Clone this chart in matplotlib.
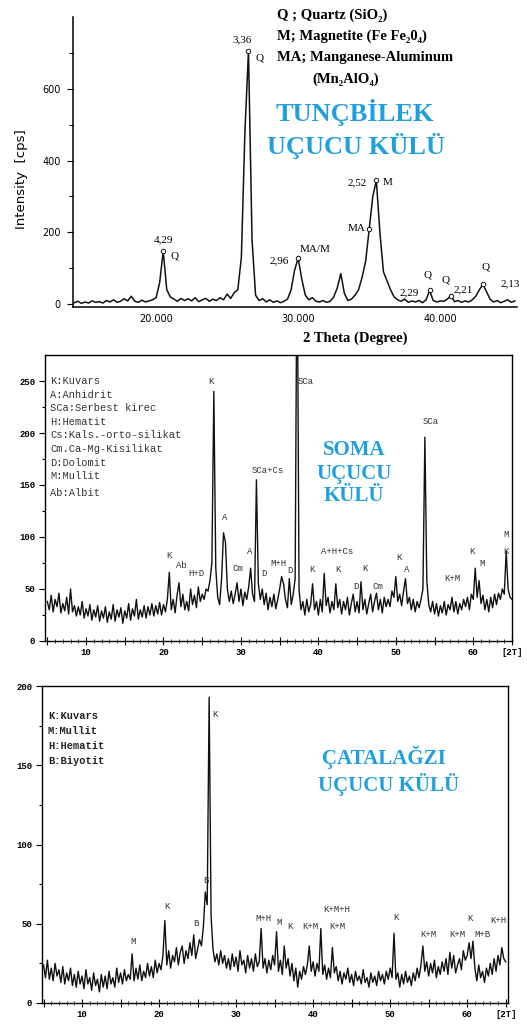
import numpy as np
import matplotlib
matplotlib.use("Agg")
import matplotlib.pyplot as plt
from matplotlib.ticker import MultipleLocator, FixedLocator, FuncFormatter

W, H = 527, 1026
BLUE = "#1f9fe0"
INK = "#111111"
SERIF = ["Liberation Serif", "DejaVu Serif"]
MONO = ["Liberation Mono", "DejaVu Sans Mono"]

# ---- Tunçbilek (2 theta from 14.25, step 0.25) ----
tun_start, tun_step = 14.25, 0.25
tun_counts = [
    4, 8, 2, 6, 3, 9, 5, 7,
    3, 10, 6, 12, 5, 8, 15, 9,
    22, 8, 5, 11, 6, 9, 12, 18,
    60, 148, 40, 20, 14, 8, 16, 10,
    15, 9, 18, 7, 12, 16, 8, 14,
    10, 18, 12, 28, 16, 32, 40, 130,
    480, 705, 180, 25, 10, 15, 6, 12,
    5, 9, 4, 8, 14, 40, 95, 128,
    70, 25, 12, 18, 8, 6, 10, 5,
    8, 20, 45, 85, 30, 10, 14, 25,
    40, 75, 120, 210, 300, 345, 200, 90,
    65, 40, 20, 12, 8, 14, 5, 9,
    6, 10, 4, 12, 38, 10, 6, 9,
    8, 14, 24, 7, 10, 5, 9, 6,
    12, 22, 40, 55, 35, 14, 6, 10,
    4, 8, 12, 5, 9,
]
tun_ticks = [20, 30, 40]
tun_ticklabels = ["20.000", "30.000", "40.000"]
tun_yticks = [0, 200, 400, 600]
tun_circles = [20.5, 26.5, 30.0, 35.0, 35.5, 39.25, 40.75, 43.0]
tun_peaks = [
    ("3,36", 26.05, 736), ("Q", 27.3, 686), ("4,29", 20.5, 178), ("Q", 21.3, 133),
    ("2,96", 28.7, 122), ("MA/M", 31.2, 153), ("2,52", 34.15, 339), ("M", 36.3, 339),
    ("MA", 34.1, 211), ("Q", 39.1, 80), ("Q", 40.4, 67), ("2,29", 37.8, 33),
    ("2,21", 41.6, 39), ("Q", 43.2, 103), ("2,13", 44.9, 56),
]
tun_legend = ["Q ; Quartz (SiO₂)", "M; Magnetite (Fe Fe₂0₄)", "MA; Manganese-Aluminum"]

# ---- Soma (2 theta from 5, step 0.25) ----
soma_start, soma_step = 5.0, 0.25
soma_counts = [
    38, 30, 44, 28, 40, 33, 46, 27,
    36, 29, 42, 26, 50, 28, 34, 24,
    33, 25, 38, 22, 31, 24, 35, 20,
    30, 23, 34, 19, 29, 22, 33, 18,
    28, 21, 35, 19, 30, 23, 32, 17,
    29, 22, 36, 20, 31, 24, 40, 21,
    30, 23, 34, 22, 33, 25, 36, 24,
    34, 26, 37, 25, 35, 28, 40, 66,
    30, 40, 27, 44, 56, 33, 45, 30,
    38, 29, 50, 35, 44, 32, 52, 38,
    45, 40, 50, 48, 58, 75, 240, 70,
    42, 35, 60, 104, 95, 50, 38, 48,
    36, 45, 56, 38, 50, 34, 47, 40,
    52, 70, 45, 38, 155, 55, 40, 50,
    35, 46, 30, 42, 33, 45, 31, 40,
    50, 62, 55, 40, 32, 60, 35, 45,
    60, 400, 50, 30, 38, 25, 40, 28,
    35, 55, 30, 38, 25, 40, 28, 65,
    34, 42, 27, 38, 30, 55, 32, 40,
    26, 38, 30, 42, 25, 36, 45, 28,
    38, 27, 57, 30, 40, 26, 36, 45,
    28, 38, 46, 30, 40, 27, 42, 33,
    40, 33, 48, 42, 62, 38, 45, 34,
    48, 60, 36, 42, 30, 40, 28, 38,
    32, 40, 50, 196, 58, 35, 28, 38,
    26, 36, 24, 34, 27, 38, 25, 35,
    30, 42, 28, 38, 26, 36, 30, 40,
    33, 42, 30, 45, 40, 70, 42, 58,
    36, 44, 30, 40, 28, 42, 32, 45,
    35, 46, 40, 50, 45, 86, 50, 42,
    40,
]
soma_legend = ["K:Kuvars", "A:Anhidrit", "SCa:Serbest kirec", "H:Hematit",
               "Cs:Kals.-orto-silikat", "Cm.Ca-Mg-Kisilikat", "D:Dolomit",
               "M:Mullit", "Ab:Albit"]
soma_peaks = [
    ("K", 26.1, 250), ("SCa", 38.4, 250), ("SCa", 54.5, 211), ("SCa+Cs", 33.5, 164),
    ("A", 27.9, 119), ("A", 31.15, 86), ("K", 20.7, 82), ("Ab", 22.25, 73),
    ("H+D", 24.2, 65), ("Cm", 29.6, 70), ("D", 33.0, 65), ("M+H", 34.8, 75),
    ("D", 36.3, 68), ("A+H+Cs", 42.4, 86), ("K", 39.15, 69), ("K", 42.5, 69),
    ("K", 46.0, 70), ("D", 44.8, 52), ("Cm", 47.7, 52), ("K", 50.4, 80),
    ("A", 51.4, 69), ("K+M", 57.3, 60), ("K", 59.8, 86), ("M", 61.1, 75),
    ("M", 64.2, 102), ("K", 64.2, 86),
]

# ---- Çatalağzı (2 theta from 5, step 0.25) ----
cat_start, cat_step = 5.0, 0.25
cat_counts = [
    24, 16, 27, 15, 22, 14, 25, 17,
    21, 13, 23, 12, 19, 14, 22, 11,
    18, 10, 20, 12, 17, 9, 21, 12,
    16, 8, 19, 11, 15, 7, 18, 10,
    17, 9, 20, 12, 16, 10, 22, 13,
    19, 12, 21, 14, 18, 15, 31, 14,
    22, 15, 24, 14, 20, 16, 25, 17,
    23, 16, 27, 19, 25, 21, 30, 52,
    24, 33, 22, 30, 26, 35, 24, 32,
    36, 25, 33, 28, 38, 30, 43, 28,
    34, 40, 36, 48, 70, 62, 193, 55,
    34, 26, 31, 24, 33, 25, 30, 22,
    28, 21, 31, 23, 29, 20, 33, 24,
    27, 19, 30, 22, 28, 20, 31, 23,
    26, 47, 22, 28, 19, 27, 21, 30,
    24, 45, 20, 27, 18, 36, 22, 28,
    17, 25, 14, 22, 10, 20, 15, 23,
    18, 24, 36, 20, 26, 17, 25, 20,
    47, 18, 24, 15, 22, 16, 35, 19,
    23, 14, 20, 12, 19, 15, 22, 13,
    18, 11, 20, 14, 17, 12, 21, 13,
    16, 10, 19, 13, 17, 11, 20, 14,
    18, 12, 20, 15, 22, 16, 44, 15,
    19, 10, 18, 12, 20, 13, 17, 11,
    19, 14, 22, 16, 24, 36, 20, 26,
    17, 25, 19, 27, 16, 23, 18, 26,
    20, 28, 18, 32, 22, 30, 19, 24,
    28, 21, 33, 27, 30, 38, 28, 39,
    22, 14, 24, 16, 20, 13, 22, 17,
    25, 18, 28, 20, 30, 24, 35, 28,
    26,
]
cat_legend = ["K:Kuvars", "M:Mullit", "H:Hematit", "B:Biyotit"]
cat_peaks = [
    ("K", 27.3, 182), ("B", 26.1, 77), ("K", 21.0, 61), ("B", 24.8, 50),
    ("M", 16.6, 38.5), ("M+H", 33.5, 53.6), ("M", 35.6, 51), ("K", 37.0, 48),
    ("K+M", 39.6, 48), ("K+M+H", 43.0, 58.7), ("K+M", 43.2, 48), ("K", 50.8, 54),
    ("K+M", 54.9, 43.5), ("K+M", 58.7, 43.5), ("K", 60.4, 53.6), ("M+B", 62.0, 43.5),
    ("K+H", 64.0, 52),
]


def fpos(px, py):
    return px / W, 1 - py / H


def two_theta(start, step, counts):
    return start + step * np.arange(len(counts))


def xfmt(v, pos):
    if abs(v - 65) < 0.01:
        return "[2T]"
    if int(round(v)) % 10 == 0:
        return str(int(round(v)))
    return ""


def mono_ticks(ax):
    for t in ax.get_xticklabels() + ax.get_yticklabels():
        t.set_fontfamily(MONO)
        t.set_fontweight("bold")


fig = plt.figure(figsize=(W / 100, H / 100), dpi=100)

# ---------- panel 1 ----------
ax1 = fig.add_axes([73 / W, 1 - 307 / H, 444 / W, 290 / H])
x1 = two_theta(tun_start, tun_step, tun_counts)
ax1.plot(x1, tun_counts, color=INK, lw=1.1)
ax1.plot(tun_circles, np.interp(tun_circles, x1, tun_counts), "o", ms=3.2,
         mfc="white", mec=INK, mew=0.7)
ax1.set_xlim(14.15, 45.4)
ax1.set_ylim(-8, 800)
for s in ("top", "right"):
    ax1.spines[s].set_visible(False)
ax1.spines["left"].set_linewidth(1.1)
ax1.spines["bottom"].set_linewidth(1.1)
ax1.xaxis.set_major_locator(FixedLocator(tun_ticks))
ax1.set_xticklabels(tun_ticklabels)
ax1.yaxis.set_major_locator(FixedLocator(tun_yticks))
ax1.yaxis.set_minor_locator(FixedLocator([100, 300, 500, 700]))
ax1.tick_params(axis="x", length=0, pad=5, labelsize=7)
ax1.tick_params(axis="y", which="major", length=4, width=0.8, labelsize=7, pad=5)
ax1.tick_params(axis="y", which="minor", length=3, width=0.8)
for txt, x, y in tun_peaks:
    ax1.text(x, y, txt, ha="center", va="center", fontsize=8, family=SERIF)

fig.text(*fpos(22, 179), "Intensity  [cps]", rotation=90, ha="center", va="center",
         fontsize=9.5)
fig.text(*fpos(355, 338), "2 Theta (Degree)", ha="center", va="center",
         fontsize=10.5, family=SERIF, weight="bold")
for i, line in enumerate(tun_legend):
    fig.text(*fpos(277, 15 + 21.5 * i), line, ha="left", va="center",
             fontsize=10.5, family=SERIF, weight="bold")
fig.text(*fpos(312, 79), "(Mn₂AlO₄)", ha="left", va="center",
         fontsize=10.5, family=SERIF, weight="bold")
fig.text(*fpos(355, 113), "TUNÇBİLEK", ha="center", va="center", fontsize=19,
         family=SERIF, weight="bold", color=BLUE)
fig.text(*fpos(356, 146), "UÇUCU KÜLÜ", ha="center", va="center", fontsize=19,
         family=SERIF, weight="bold", color=BLUE)

# ---------- panel 2 ----------
ax2 = fig.add_axes([45 / W, 1 - 641 / H, 467 / W, 286 / H])
x2 = two_theta(soma_start, soma_step, soma_counts)
ax2.plot(x2, soma_counts, color=INK, lw=1.0)
ax2.set_xlim(4.7, 65)
ax2.set_ylim(0, 275)
for s in ax2.spines.values():
    s.set_linewidth(1.0)
ax2.yaxis.set_major_locator(FixedLocator([0, 50, 100, 150, 200, 250]))
ax2.yaxis.set_minor_locator(FixedLocator([25, 75, 125, 175, 225]))
ax2.xaxis.set_major_locator(MultipleLocator(5))
ax2.xaxis.set_minor_locator(MultipleLocator(1))
ax2.xaxis.set_major_formatter(FuncFormatter(xfmt))
ax2.tick_params(axis="y", which="major", direction="out", length=4, width=0.8,
                labelsize=6.5, pad=3)
ax2.tick_params(axis="y", which="minor", direction="out", length=2.5, width=0.8)
ax2.tick_params(axis="x", which="major", direction="inout", length=6, width=0.8,
                labelsize=6.5, pad=2)
ax2.tick_params(axis="x", which="minor", direction="inout", length=3, width=0.6)
mono_ticks(ax2)
for txt, x, y in soma_peaks:
    ax2.text(x, y, txt, ha="center", va="center", fontsize=6.5, family=MONO,
             color="#333333")
for i, line in enumerate(soma_legend[:-1]):
    fig.text(*fpos(50, 381 + 13.6 * i), line, ha="left", va="center",
             fontsize=7.5, family=MONO, color="#333333")
fig.text(*fpos(50, 493), soma_legend[-1], ha="left", va="center",
         fontsize=7.5, family=MONO, color="#333333")
for txt, py in (("SOMA", 450), ("UÇUCU", 474), ("KÜLÜ", 496)):
    fig.text(*fpos(354, py), txt, ha="center", va="center", fontsize=15,
             family=SERIF, weight="bold", color=BLUE)

# ---------- panel 3 ----------
ax3 = fig.add_axes([42 / W, 1 - 1003 / H, 466 / W, 317 / H])
x3 = two_theta(cat_start, cat_step, cat_counts)
ax3.plot(x3, cat_counts, color=INK, lw=1.0)
ax3.set_xlim(4.8, 65.3)
ax3.set_ylim(0, 200)
for s in ax3.spines.values():
    s.set_linewidth(1.0)
ax3.yaxis.set_major_locator(FixedLocator([0, 50, 100, 150, 200]))
ax3.yaxis.set_minor_locator(FixedLocator([25, 75, 125, 175]))
ax3.xaxis.set_major_locator(MultipleLocator(5))
ax3.xaxis.set_minor_locator(MultipleLocator(1))
ax3.xaxis.set_major_formatter(FuncFormatter(xfmt))
ax3.tick_params(axis="y", which="major", direction="out", length=4, width=0.8,
                labelsize=6.5, pad=3)
ax3.tick_params(axis="y", which="minor", direction="out", length=2.5, width=0.8)
ax3.tick_params(axis="x", which="major", direction="inout", length=6, width=0.8,
                labelsize=6.5, pad=2)
ax3.tick_params(axis="x", which="minor", direction="inout", length=3, width=0.6)
mono_ticks(ax3)
for txt, x, y in cat_peaks:
    ax3.text(x, y, txt, ha="center", va="center", fontsize=6.5, family=MONO,
             color="#333333")
for i, line in enumerate(cat_legend):
    fig.text(*fpos(48, 716 + 15 * i), line, ha="left", va="center",
             fontsize=7.5, family=MONO, weight="bold", color="#222222")
fig.text(*fpos(384, 757), "ÇATALAĞZI", ha="center", va="center", fontsize=15,
         family=SERIF, weight="bold", color=BLUE)
fig.text(*fpos(389, 784), "UÇUCU KÜLÜ", ha="center", va="center", fontsize=15,
         family=SERIF, weight="bold", color=BLUE)

fig.savefig("out.png", dpi=100, facecolor="white")
